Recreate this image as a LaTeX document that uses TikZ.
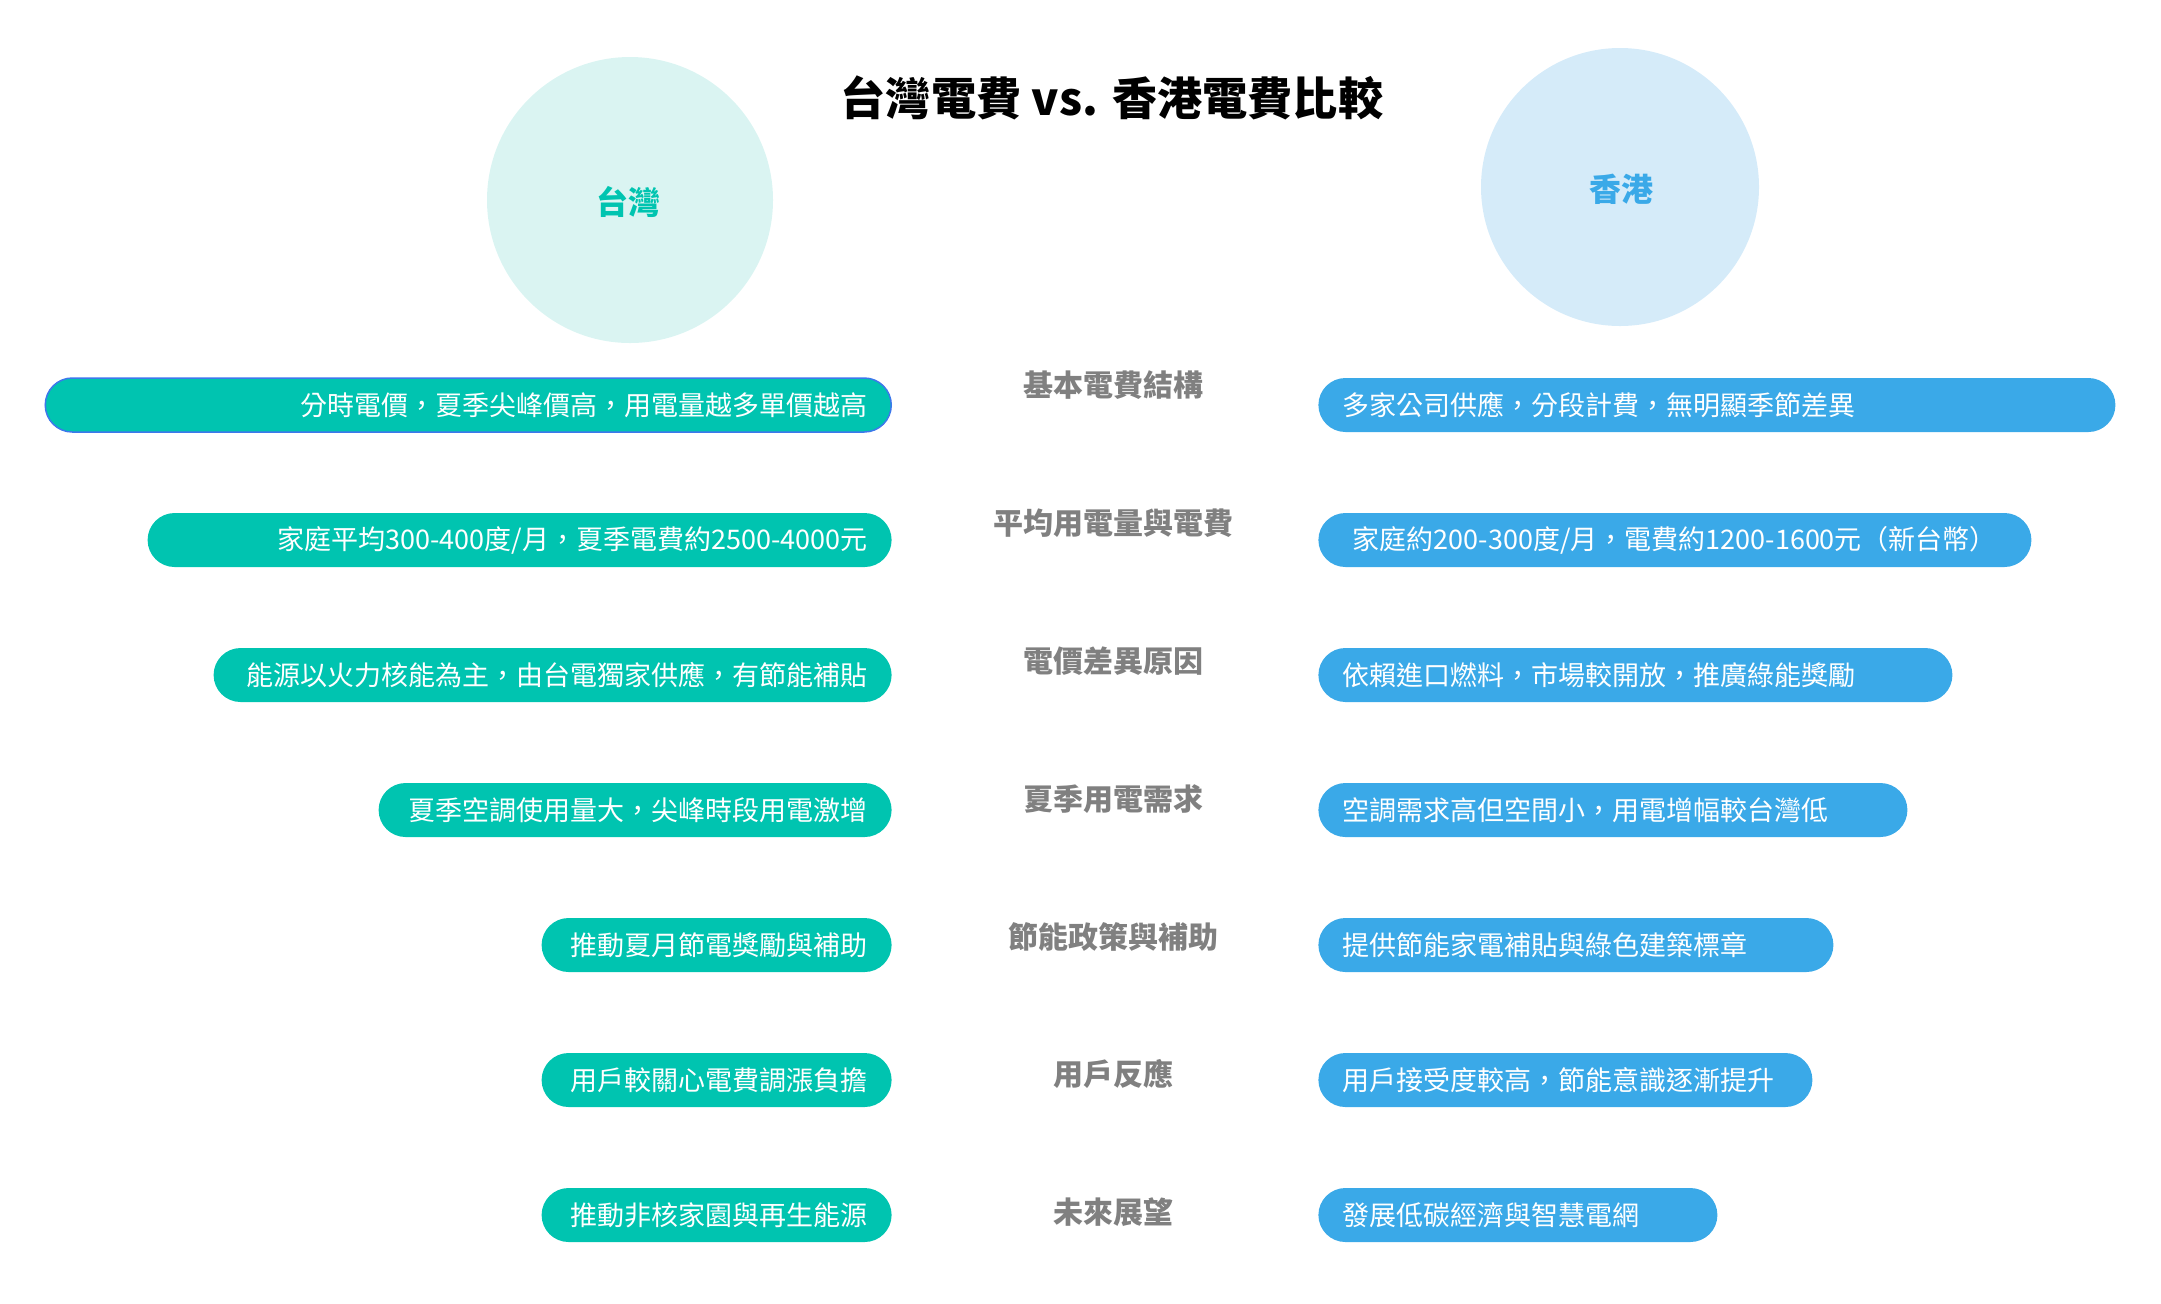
\documentclass[tikz,border=0pt]{standalone}
\usepackage{fontspec}
\setmainfont{Noto Sans CJK TC}
\definecolor{twgreen}{RGB}{0,196,176}
\definecolor{twlight}{RGB}{218,244,242}
\definecolor{hkblue}{RGB}{58,169,232}
\definecolor{hklight}{RGB}{213,235,249}
\definecolor{topicgray}{RGB}{128,128,128}
\definecolor{pickblue}{RGB}{60,120,235}

\begin{document}
\begin{tikzpicture}[x=0.5pt,y=-0.5pt,bubble/.style={circle,inner sep=0pt,font=\fontsize{16}{19}\selectfont\bfseries},pill/.style={rectangle,rounded corners=13.5pt,minimum height=27pt,inner xsep=12pt,inner ysep=0pt,text=white,font=\fontsize{13.5}{16}\selectfont},twpill/.style={pill,fill=twgreen,anchor=east,align=right},hkpill/.style={pill,fill=hkblue,anchor=west,align=left},topic/.style={text=topicgray,font=\fontsize{15}{18}\selectfont\bfseries}]
\useasboundingbox (0,0) rectangle (2161,1303);
\node[bubble,fill=twlight,minimum size=143pt,text=twgreen] (tw) at (630,200) {};
\node[bubble,text=twgreen] (twlabel) at (628,202) {台灣};
\node[bubble,fill=hklight,minimum size=139pt,text=hkblue] (hk) at (1620,187) {};
\node[bubble,text=hkblue] (hklabel) at (1621,189) {香港};
\node[font=\fontsize{22.6}{27}\selectfont\bfseries] (title) at (1112,98) {台灣電費 vs. 香港電費比較};
% topics in the middle
\node[topic] (topa) at (1113,385) {基本電費結構};
\node[topic] (topb) at (1113,523) {平均用電量與電費};
\node[topic] (topc) at (1113,661) {電價差異原因};
\node[topic] (topd) at (1113,799) {夏季用電需求};
\node[topic] (tope) at (1113,937) {節能政策與補助};
\node[topic] (topf) at (1113,1074) {用戶反應};
\node[topic] (topg) at (1113,1212) {未來展望};
% Taiwan side
\node[twpill,text width=399pt,draw=pickblue,line width=0.75pt] (twa) at (892,405) {分時電價，夏季尖峰價高，用電量越多單價越高};
\node[twpill,text width=348pt] (twb) at (892,540) {家庭平均300-400度/月，夏季電費約2500-4000元};
\node[twpill,text width=315pt] (twc) at (892,675) {能源以火力核能為主，由台電獨家供應，有節能補貼};
\node[twpill,text width=232.5pt] (twd) at (892,810) {夏季空調使用量大，尖峰時段用電激增};
\node[twpill,text width=151pt] (twe) at (892,945) {推動夏月節電獎勵與補助};
\node[twpill,text width=151pt] (twf) at (892,1080) {用戶較關心電費調漲負擔};
\node[twpill,text width=151pt] (twg) at (892,1215) {推動非核家園與再生能源};
% Hong Kong side
\node[hkpill,text width=374.5pt] (hka) at (1318,405) {多家公司供應，分段計費，無明顯季節差異};
\node[hkpill,align=center,inner xsep=4pt,minimum width=356.5pt] (hkb) at (1318,540) {家庭約200-300度/月，電費約1200-1600元（新台幣）};
\node[hkpill,text width=293pt] (hkc) at (1318,675) {依賴進口燃料，市場較開放，推廣綠能獎勵};
\node[hkpill,text width=270.5pt] (hkd) at (1318,810) {空調需求高但空間小，用電增幅較台灣低};
\node[hkpill,text width=233.5pt] (hke) at (1318,945) {提供節能家電補貼與綠色建築標章};
\node[hkpill,text width=223pt] (hkf) at (1318,1080) {用戶接受度較高，節能意識逐漸提升};
\node[hkpill,text width=175.5pt] (hkg) at (1318,1215) {發展低碳經濟與智慧電網};
\end{tikzpicture}
\end{document}
